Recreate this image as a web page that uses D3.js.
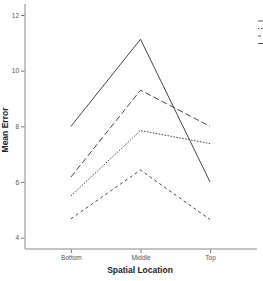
<!DOCTYPE html>
<html>
<head>
<meta charset="utf-8">
<script src="https://cdn.jsdelivr.net/npm/d3@7"></script>
<style>
  body { margin: 0; background: #fff; }
  text { font-family: "Liberation Sans", Arial, sans-serif; }
</style>
</head>
<body>
<svg width="263" height="281"></svg>
<script>
// categories and series
var locations = ["Bottom", "Middle", "Top"];
var yTicks = [4, 6, 8, 10, 12];
var solidVals = [8.0, 11.13, 6.0];
var longDashVals = [6.18, 9.3, 8.0];
var dottedVals = [5.5, 7.85, 7.38];
var shortDashVals = [4.68, 6.43, 4.65];

var seriesList = [
  { vals: longDashVals, dash: "6,3" },
  { vals: dottedVals, dash: "1.5,1.5" },
  { vals: shortDashVals, dash: "3,3" },
  { vals: solidVals, dash: null }
];

var svg = d3.select("svg");

// scales
var x = d3.scalePoint()
    .domain(locations)
    .range([25, 256])
    .padding(0.66);

var y = d3.scaleLinear()
    .domain([4, 12])
    .range([237.7, 15]);

var axisColor = "#b0b0b0";

// y axis
var yAxis = svg.append("g")
    .attr("transform", "translate(25,0)")
    .call(d3.axisLeft(y).tickValues(yTicks).tickSize(4).tickPadding(2));
yAxis.select(".domain").remove();
yAxis.append("line")
    .attr("x1", 0).attr("x2", 0)
    .attr("y1", 4).attr("y2", 249)
    .attr("stroke", axisColor).attr("stroke-width", 1.5);

// x axis
var xAxis = svg.append("g")
    .attr("transform", "translate(0,249)")
    .call(d3.axisBottom(x).tickSize(4).tickPadding(2));
xAxis.select(".domain").remove();
xAxis.append("line")
    .attr("x1", 25).attr("x2", 257)
    .attr("y1", 0).attr("y2", 0)
    .attr("stroke", axisColor).attr("stroke-width", 1.5);

svg.selectAll(".tick line").attr("stroke", "#777");
svg.selectAll(".tick text")
    .attr("fill", "#555")
    .style("font-size", "6.5px");

// axis titles
svg.append("text")
    .attr("transform", "translate(8,130) rotate(-90)")
    .attr("text-anchor", "middle")
    .style("font-size", "8.5px")
    .style("font-weight", "bold")
    .attr("fill", "#222")
    .text("Mean Error");

svg.append("text")
    .attr("x", 140).attr("y", 273)
    .attr("text-anchor", "middle")
    .style("font-size", "8.5px")
    .style("font-weight", "bold")
    .attr("fill", "#222")
    .text("Spatial Location");

// lines
var line = d3.line()
    .x(function (d, i) { return x(locations[i]); })
    .y(function (d) { return y(d); });

svg.append("g")
    .selectAll("path")
    .data(seriesList)
    .enter().append("path")
        .attr("d", function (d) { return line(d.vals); })
        .attr("fill", "none")
        .attr("stroke", "#444")
        .attr("stroke-width", 1)
        .attr("stroke-dasharray", function (d) { return d.dash; });

// legend (cut off at the right edge)
var legend = svg.append("g");
legend.selectAll("line")
    .data(seriesList)
    .enter().append("line")
        .attr("x1", 258).attr("x2", 270)
        .attr("y1", function (d, i) { return 21 + i * 7.5; })
        .attr("y2", function (d, i) { return 21 + i * 7.5; })
        .attr("stroke", "#555")
        .attr("stroke-width", 1)
        .attr("stroke-dasharray", function (d) { return d.dash; });
</script>
</body>
</html>
